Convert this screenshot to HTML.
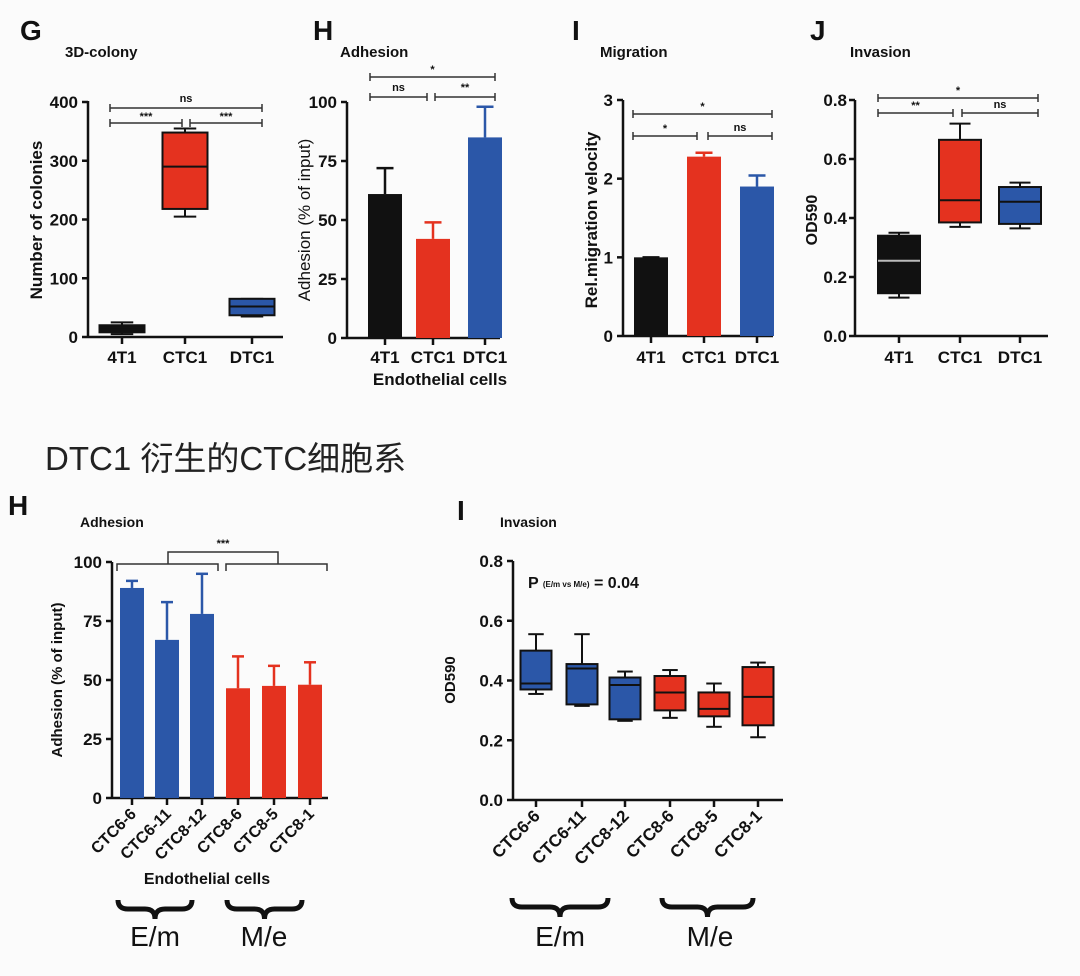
<!DOCTYPE html>
<html><head><meta charset="utf-8">
<style>
html,body{margin:0;padding:0;background:#fbfbfb;}
svg{display:block;font-family:"Liberation Sans","Noto Sans CJK SC",sans-serif;}
</style></head>
<body>
<svg id="fig" width="1080" height="976" viewBox="0 0 1080 976" xmlns="http://www.w3.org/2000/svg">
<rect width="1080" height="976" fill="#fbfbfb"/>
</svg>
<script>
// ---- data ----
const gCats = ["4T1","CTC1","DTC1"];
const gTicks = [0,100,200,300,400];
const gLo = [5,205,35], gQ1=[8,218,37], gMed=[13,290,52], gQ3=[20,348,65], gHi=[25,355,65];

const hCats = ["4T1","CTC1","DTC1"];
const hTicks = [0,25,50,75,100];
const hVals = [61,42,85], hErr=[72,49,98];

const iCats = ["4T1","CTC1","DTC1"];
const iTicks = [0,1,2,3];
const iVals = [1.0,2.28,1.9], iErr=[1.0,2.33,2.04];

const jCats = ["4T1","CTC1","DTC1"];
const jTicks = [0.0,0.2,0.4,0.6,0.8];
const jTickLabels = ["0.0","0.2","0.4","0.6","0.8"];
const jLo=[0.13,0.37,0.365], jQ1=[0.145,0.385,0.38], jMed=[0.255,0.46,0.455], jQ3=[0.34,0.665,0.505], jHi=[0.35,0.72,0.52];

const h2Cats = ["CTC6-6","CTC6-11","CTC8-12","CTC8-6","CTC8-5","CTC8-1"];
const h2Ticks = [0,25,50,75,100];
const h2Vals = [89,67,78,46.5,47.5,48], h2Err=[92,83,95,60,56,57.5];

const i2Cats = ["CTC6-6","CTC6-11","CTC8-12","CTC8-6","CTC8-5","CTC8-1"];
const i2Ticks = [0.0,0.2,0.4,0.6,0.8];
const i2TickLabels = ["0.0","0.2","0.4","0.6","0.8"];
const i2Lo=[0.355,0.315,0.265,0.275,0.245,0.21], i2Q1=[0.37,0.32,0.27,0.30,0.28,0.25], i2Med=[0.39,0.44,0.385,0.36,0.305,0.345], i2Q3=[0.50,0.455,0.41,0.415,0.36,0.445], i2Hi=[0.555,0.555,0.43,0.435,0.39,0.46];

const BLUE="#2b57a8", RED="#e4321f", BLK="#111";
const NS="http://www.w3.org/2000/svg";
const svg=document.getElementById('fig');
function el(tag,attrs,parent,text){const e=document.createElementNS(NS,tag);for(const k in attrs)e.setAttribute(k,attrs[k]);if(text!==undefined)e.textContent=text;(parent||svg).appendChild(e);return e;}
function grp(name){const g=el('g',{});return g;}
function txt(g,x,y,s,size,name,opts){opts=opts||{};const t=el('text',{x:x,y:y,'font-size':size,'text-anchor':opts.anchor||'start','font-weight':opts.bold===false?'normal':'bold',fill:'#111'},g,s);if(opts.rot)t.setAttribute('transform','rotate('+opts.rot+' '+x+' '+y+')');return t;}
function line(g,x1,y1,x2,y2,c,w){return el('line',{x1:x1,y1:y1,x2:x2,y2:y2,stroke:c||BLK,'stroke-width':w||2.5},g);}

function axes(g,ax,y0,yTop,xEnd,ticks,labels,ys,xs,cats,rotLabels,labelY,gap){
  gap=gap||10;
  line(g,ax,yTop,ax,y0);line(g,ax,y0,xEnd,y0);
  ticks.forEach((t,i)=>{const y=ys(t);line(g,ax-6,y,ax,y);txt(g,ax-gap,y+6,labels[i],17,'y-tick-label',{anchor:'end'});});
  cats.forEach((c,i)=>{const x=xs(i);line(g,x,y0,x,y0+7);
    if(rotLabels){txt(g,x+5,y0+17,c,rotLabels,'x-tick-label',{anchor:'end',rot:-45});}
    else txt(g,x,labelY,c,17,'x-tick-label',{anchor:'middle'});});
}
function sig(g,x1,x2,y,label,ly){line(g,x1,y,x2,y,'#333',1.5);line(g,x1,y-4,x1,y+4,'#333',1.5);line(g,x2,y-4,x2,y+4,'#333',1.5);txt(g,(x1+x2)/2,ly,label,11,'significance-label',{anchor:'middle'});}
function box(g,x,w,ys,lo,q1,med,q3,hi,fill,medc,name){
  const b=el('g',{},g);
  line(b,x,ys(hi),x,ys(q3),BLK,2);line(b,x-w/4,ys(hi),x+w/4,ys(hi),BLK,2);
  line(b,x,ys(lo),x,ys(q1),BLK,2);line(b,x-w/4,ys(lo),x+w/4,ys(lo),BLK,2);
  el('rect',{x:x-w/2,y:ys(q3),width:w,height:ys(q1)-ys(q3),fill:fill,stroke:BLK,'stroke-width':2},b);
  line(b,x-w/2,ys(med),x+w/2,ys(med),medc||BLK,2);
}
function bar(g,x,w,ys,v,e,fill,name){
  const b=el('g',{},g);
  line(b,x,ys(v),x,ys(e),fill,2.5);line(b,x-w/4,ys(e),x+w/4,ys(e),fill,2.5);
  el('rect',{x:x-w/2,y:ys(v),width:w,height:ys(0)-ys(v),fill:fill},b);
}
function brace(g,x1,x2,y,name){const m=(x1+x2)/2;const p=el('path',{d:`M${x1},${y} q0,9 10,9 L${m-10},${y+9} q10,0 10,10 q0,-10 10,-10 L${x2-10},${y+9} q10,0 10,-9`,fill:'none',stroke:BLK,'stroke-width':5},g);}

// ---- Panel G ----
(function(){const g=grp('panel-g-3d-colony');
 const ys=v=>337-(v/400)*235, xs=i=>[122,185,252][i];
 txt(g,20,40,'G',28,'panel-letter');txt(g,65,57,'3D-colony',15,'panel-title');
 axes(g,88,337,101,283,gTicks,gTicks.map(String),ys,xs,gCats,false,363);
 txt(g,42,220,'Number of colonies',17,'y-axis-title',{anchor:'middle',rot:-90});
 const fills=[BLK,RED,BLUE];
 gCats.forEach((c,i)=>box(g,xs(i),45,ys,gLo[i],gQ1[i],gMed[i],gQ3[i],gHi[i],fills[i],BLK,'box-'+c));
 sig(g,110,262,108,'ns',102);sig(g,110,182,123,'***',120);sig(g,190,262,123,'***',120);
})();
// ---- Panel H ----
(function(){const g=grp('panel-h-adhesion');
 const ys=v=>338-(v/100)*236, xs=i=>[385,433,485][i];
 txt(g,313,40,'H',28,'panel-letter');txt(g,340,57,'Adhesion',15,'panel-title');
 axes(g,347,338,102,500,hTicks,hTicks.map(String),ys,xs,hCats,false,363);
 txt(g,310,220,'Adhesion (% of input)',17,'y-axis-title',{anchor:'middle',rot:-90,bold:false});
 txt(g,440,385,'Endothelial cells',17,'x-axis-title',{anchor:'middle'});
 const fills=[BLK,RED,BLUE];
 hCats.forEach((c,i)=>bar(g,xs(i),34,ys,hVals[i],hErr[i],fills[i],'bar-'+c));
 sig(g,370,495,77,'*',73);sig(g,370,427,97,'ns',91);sig(g,435,495,97,'**',91);
})();
// ---- Panel I ----
(function(){const g=grp('panel-i-migration');
 const ys=v=>336-(v/3)*236, xs=i=>[651,704,757][i];
 txt(g,572,40,'I',28,'panel-letter');txt(g,600,57,'Migration',15,'panel-title');
 axes(g,623,336,100,773,iTicks,iTicks.map(String),ys,xs,iCats,false,363);
 txt(g,597,220,'Rel.migration velocity',17,'y-axis-title',{anchor:'middle',rot:-90});
 const fills=[BLK,RED,BLUE];
 iCats.forEach((c,i)=>bar(g,xs(i),34,ys,iVals[i],iErr[i],fills[i],'bar-'+c));
 sig(g,633,772,114,'*',110);sig(g,633,697,136,'*',132);sig(g,708,772,136,'ns',131);
})();
// ---- Panel J ----
(function(){const g=grp('panel-j-invasion');
 const ys=v=>336-(v/0.8)*236, xs=i=>[899,960,1020][i];
 txt(g,810,40,'J',28,'panel-letter');txt(g,850,57,'Invasion',15,'panel-title');
 axes(g,855,336,100,1048,jTicks,jTickLabels,ys,xs,jCats,false,363,8);
 txt(g,817,220,'OD590',16,'y-axis-title',{anchor:'middle',rot:-90});
 const fills=[BLK,RED,BLUE], medc=['#bbb',BLK,BLK];
 jCats.forEach((c,i)=>box(g,xs(i),42,ys,jLo[i],jQ1[i],jMed[i],jQ3[i],jHi[i],fills[i],medc[i],'box-'+c));
 sig(g,878,1038,98,'*',94);sig(g,878,953,113,'**',109);sig(g,962,1038,113,'ns',108);
})();
// ---- heading ----
(function(){const t=txt(svg,45,470,'DTC1 衍生的CTC细胞系',33,'section-heading',{bold:false});t.setAttribute('fill','#222');})();
// ---- Bottom H ----
(function(){const g=grp('panel-h2-adhesion');
 const ys=v=>798-(v/100)*236, xs=i=>[132,167,202,238,274,310][i];
 txt(g,8,515,'H',28,'panel-letter');txt(g,80,527,'Adhesion',14,'panel-title');
 axes(g,112,798,562,328,h2Ticks,h2Ticks.map(String),ys,xs,h2Cats,16,0);
 txt(g,62,680,'Adhesion (% of input)',15,'y-axis-title',{anchor:'middle',rot:-90});
 txt(g,207,884,'Endothelial cells',16,'x-axis-title',{anchor:'middle'});
 h2Cats.forEach((c,i)=>bar(g,xs(i),24,ys,h2Vals[i],h2Err[i],i<3?BLUE:RED,'bar-'+c));
 const bk=el('path',{d:'M117,571 L117,564 L218,564 L218,571 M226,571 L226,564 L327,564 L327,571 M168,564 L168,552 L278,552 L278,564',fill:'none',stroke:'#333','stroke-width':1.5},g);
 
 txt(g,223,547,'***',11,'significance-label',{anchor:'middle'});
 brace(g,118,192,900,'brace-e-m');brace(g,227,302,900,'brace-m-e');
 txt(g,155,946,'E/m',28,'group-label-e-m',{anchor:'middle',bold:false});
 txt(g,264,946,'M/e',28,'group-label-m-e',{anchor:'middle',bold:false});
})();
// ---- Bottom I ----
(function(){const g=grp('panel-i2-invasion');
 const ys=v=>800-(v/0.8)*239, xs=i=>[536,582,625,670,714,758][i];
 txt(g,457,520,'I',28,'panel-letter');txt(g,500,527,'Invasion',14,'panel-title');
 axes(g,513,800,561,783,i2Ticks,i2TickLabels,ys,xs,i2Cats,17,0);
 txt(g,455,680,'OD590',15,'y-axis-title',{anchor:'middle',rot:-90});
 i2Cats.forEach((c,i)=>box(g,xs(i),31,ys,i2Lo[i],i2Q1[i],i2Med[i],i2Q3[i],i2Hi[i],i<3?BLUE:RED,BLK,'box-'+c));
 const t=el('text',{x:528,y:588,'font-size':16,'font-weight':'bold',fill:'#111'},g);
 
 t.innerHTML='P <tspan font-size="8" dy="-1">  (E/m vs  M/e)</tspan><tspan dy="1"> = 0.04</tspan>';
 brace(g,512,608,898,'brace-e-m');brace(g,662,753,898,'brace-m-e');
 txt(g,560,946,'E/m',28,'group-label-e-m',{anchor:'middle',bold:false});
 txt(g,710,946,'M/e',28,'group-label-m-e',{anchor:'middle',bold:false});
})();
</script>
</body></html>
